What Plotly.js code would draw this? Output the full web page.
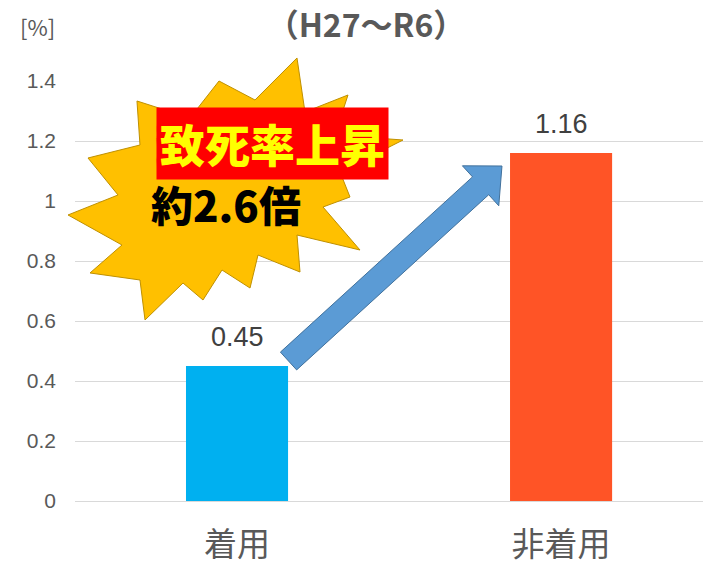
<!DOCTYPE html>
<html>
<head>
<meta charset="utf-8">
<script src="https://cdn.plot.ly/plotly-3.0.1.min.js"></script>
<style>html,body{margin:0;padding:0;background:#fff;}#chart{width:713px;height:565px;}</style>
</head>
<body>
<div id="chart"></div>
<script>
// ---- data ----
const categories = ['着用', '非着用'];
const fatalityRate = [0.45, 1.16];
const barColors = ['#00B0F0', '#FF5426'];
const yTicks = [0, 0.2, 0.4, 0.6, 0.8, 1, 1.2, 1.4];
const yTickLabels = ['0', '0.2', '0.4', '0.6', '0.8', '1', '1.2', '1.4'];
const chartTitle = '（H27〜R6）';
const unitLabel = '[%]';
const calloutMain = '致死率上昇';
const calloutSub = '約2.6倍';

// ---- layout helpers (pixel -> paper) ----
const PL = 75, PR = 703, PT = 81, PB = 501, W = 713, H = 565;
const px = x => (x - PL) / (PR - PL);
const py = y => (PB - y) / (PB - PT);
function pathFrom(pts) {
  return 'M ' + pts.map(p => px(p[0]).toFixed(4) + ',' + py(p[1]).toFixed(4)).join(' L ') + ' Z';
}
const burst = [[297,58],[305,112],[348,95],[335,135],[403,140],[340,172],[350,197],[323,207],[360,250],[297,235],[300,272],[258,255],[250,288],[222,270],[203,300],[183,283],[145,320],[140,280],[90,273],[122,245],[68,215],[118,195],[88,158],[140,145],[137,101],[190,118],[219,81],[255,100]];
const arrow = [[280.4,352.1],[472.5,176.9],[462.4,165.8],[502,166],[498.8,205.8],[488.7,194.7],[296.6,369.9]];

function outline(color, radii, step) {
  const parts = [];
  radii.forEach(r => {
    for (let a = 0; a < 360; a += step) {
      const rad = a * Math.PI / 180;
      parts.push(color + ' ' + (r * Math.cos(rad)).toFixed(1) + 'px ' + (r * Math.sin(rad)).toFixed(1) + 'px 1px');
    }
  });
  return parts.join(', ');
}

const trace = {
  type: 'bar',
  x: categories,
  y: fatalityRate,
  marker: {color: barColors},
  hoverinfo: 'none'
};

const dataLabels = categories.map((c, i) => ({
  x: c, y: fatalityRate[i], xref: 'x', yref: 'y',
  text: String(fatalityRate[i]), showarrow: false,
  yanchor: 'bottom', yshift: 12,
  font: {family: 'Liberation Sans, Arial, sans-serif', size: 27, color: '#404040'}
}));

const layout = {
  width: W, height: H,
  margin: {l: PL, r: W - PR, t: PT, b: H - PB},
  paper_bgcolor: '#ffffff', plot_bgcolor: '#ffffff',
  showlegend: false,
  bargap: 0.685,
  title: {
    text: chartTitle, x: 366 / W, xanchor: 'center', xref: 'container',
    y: 1 - 26 / H, yanchor: 'middle', yref: 'container',
    font: {family: 'Noto Sans CJK JP, sans-serif', size: 32, color: '#595959', weight: 'bold'}
  },
  xaxis: {
    type: 'category', range: [-0.5, 1.438], fixedrange: true,
    showgrid: false, zeroline: false, showline: false, ticks: '',
    ticklabelstandoff: 21,
    tickfont: {family: 'Noto Sans CJK JP, sans-serif', size: 33, color: '#595959'}
  },
  yaxis: {
    range: [0, 1.4], tickvals: yTicks, ticktext: yTickLabels,
    showgrid: true, gridcolor: '#D9D9D9', gridwidth: 1,
    zeroline: true, zerolinecolor: '#D9D9D9', zerolinewidth: 1,
    showline: false, ticks: '', ticklabelstandoff: 18,
    tickfont: {family: 'Liberation Sans, Arial, sans-serif', size: 21, color: '#595959'}
  },
  shapes: [
    {type: 'path', xref: 'paper', yref: 'paper', path: pathFrom(burst),
     fillcolor: '#FFC000', line: {color: '#BF9000', width: 1}, layer: 'above'},
    {type: 'path', xref: 'paper', yref: 'paper', path: pathFrom(arrow),
     fillcolor: '#5B9BD5', line: {color: '#41719C', width: 1}, layer: 'above'}
  ],
  annotations: dataLabels.concat([
    {xref: 'paper', yref: 'paper', x: px(37), y: py(26), text: unitLabel, showarrow: false,
     xanchor: 'center', yanchor: 'middle',
     font: {family: 'Noto Sans CJK JP, sans-serif', size: 22, color: '#595959'}},
    {xref: 'paper', yref: 'paper', x: px(272), y: py(143), text: calloutMain, showarrow: false,
     xanchor: 'center', yanchor: 'middle', bgcolor: '#FF0000', borderpad: 3,
     font: {family: 'Noto Sans CJK JP, sans-serif', size: 45, color: '#FFFF00', weight: 900,
            shadow: outline('#FF0000', [2, 4], 30)}},
    {xref: 'paper', yref: 'paper', x: px(226), y: py(203), text: calloutSub, showarrow: false,
     xanchor: 'center', yanchor: 'middle',
     font: {family: 'Noto Sans CJK JP, sans-serif', size: 42, color: '#000000', weight: 900}}
  ])
};

Plotly.newPlot('chart', [trace], layout, {displayModeBar: false, staticPlot: true});
</script>
</body>
</html>
